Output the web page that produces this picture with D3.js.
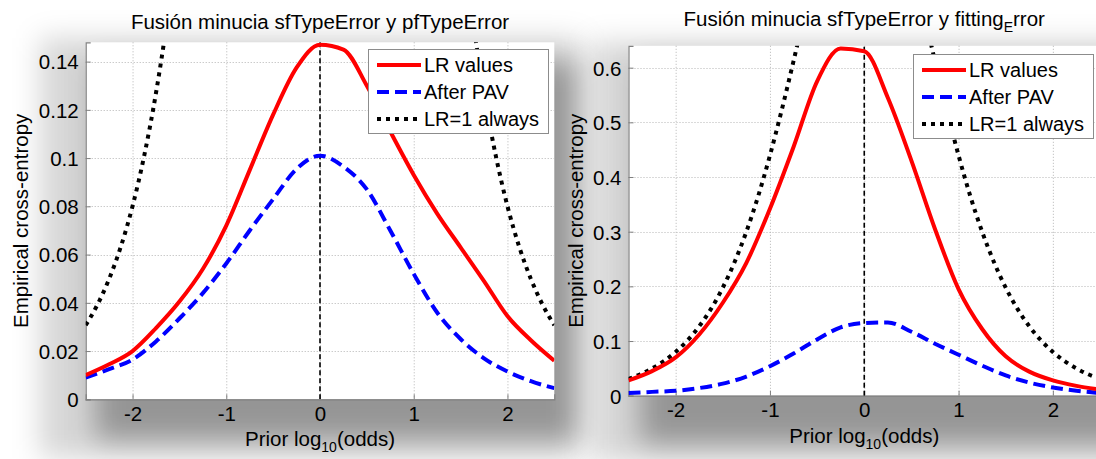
<!DOCTYPE html>
<html>
<head>
<meta charset="utf-8">
<script src="https://cdn.jsdelivr.net/npm/d3@7"></script>
<style>
  html, body { margin: 0; padding: 0; background: #fff; overflow: hidden; }
  svg { display: block; font-family: "Liberation Sans", Arial, sans-serif; }
</style>
</head>
<body>
<svg id="fig" width="1096" height="459"></svg>
<script>
// Prior log10(odds) grid shared by the LR and PAV curves
const priorLogOdds = [-2.5, -2.25, -2, -1.75, -1.5, -1.25, -1, -0.75, -0.5, -0.25, 0,
                      0.25, 0.5, 0.75, 1, 1.25, 1.5, 1.75, 2, 2.25, 2.5];

// Fusion sfTypeError + pfTypeError
const pfLRValues  = [0.0100, 0.0145, 0.0200, 0.0295, 0.0405, 0.0540, 0.0720, 0.0950, 0.1180, 0.1375, 0.1470,
                     0.1450, 0.1300, 0.1110, 0.0930, 0.0770, 0.0630, 0.0490, 0.0345, 0.0245, 0.0160];
const pfAfterPAV  = [0.0090, 0.0125, 0.0165, 0.0240, 0.0335, 0.0440, 0.0563, 0.0700, 0.0830, 0.0955, 0.1010,
                     0.0965, 0.0870, 0.0700, 0.0520, 0.0360, 0.0250, 0.0170, 0.0115, 0.0075, 0.0046];

// Fusion sfTypeError + fitting_Error
const fitLRValues = [0.0280, 0.0450, 0.0700, 0.1120, 0.1700, 0.2430, 0.3420, 0.4550, 0.5750, 0.6350, 0.6300,
                     0.5450, 0.4300, 0.3050, 0.1950, 0.1220, 0.0720, 0.0440, 0.0280, 0.0180, 0.0110];
const fitAfterPAV = [0.0050, 0.0070, 0.0090, 0.0140, 0.0220, 0.0350, 0.0540, 0.0770, 0.1030, 0.1250, 0.1330,
                     0.1340, 0.1170, 0.0950, 0.0750, 0.0550, 0.0370, 0.0240, 0.0150, 0.0090, 0.0050];

// Reference curve for a system that always outputs LR = 1
const neutralLogOdds = [-2.5, -2.375, -2.25, -2.125, -2, -1.875, -1.75, -1.625, -1.5, -1.375, -1.25, -1.125,
                        -1, -0.875, -0.75, -0.625, -0.5, -0.25, 0, 0.25, 0.5, 0.625, 0.75, 0.875, 1,
                        1.125, 1.25, 1.375, 1.5, 1.625, 1.75, 1.875, 2, 2.125, 2.25, 2.375, 2.5];
const neutralECE = [0.0307, 0.0392, 0.0499, 0.0633, 0.0801, 0.1011, 0.1270, 0.1588, 0.1977, 0.2445, 0.3000, 0.3649,
                    0.4395, 0.5226, 0.6120, 0.7049, 0.7954, 0.9427, 1.0000, 0.9427, 0.7954, 0.7049, 0.6120, 0.5226, 0.4395,
                    0.3649, 0.3000, 0.2445, 0.1977, 0.1588, 0.1270, 0.1011, 0.0801, 0.0633, 0.0499, 0.0392, 0.0307];

const xTicks = [-2, -1, 0, 1, 2];
const pfYTicks = [0, 0.02, 0.04, 0.06, 0.08, 0.1, 0.12, 0.14];
const fitYTicks = [0, 0.1, 0.2, 0.3, 0.4, 0.5, 0.6];
const legendLabels = ["LR values", "After PAV", "LR=1 always"];

const svg = d3.select("#fig");
const defs = svg.append("defs");

// Soft gray surround of each figure panel
const soft = defs.append("filter").attr("id", "soft")
  .attr("x", "-30%").attr("y", "-30%").attr("width", "160%").attr("height", "160%");
soft.append("feGaussianBlur").attr("stdDeviation", 14);

const backdrops = [
  { x: 40,  y: 38, w: 540, h: 420, o: 0.16 },
  { x: 95,  y: 62, w: 482, h: 378, o: 0.30 },
  { x: 592, y: 42, w: 620, h: 420, o: 0.16 },
  { x: 640, y: 64, w: 560, h: 380, o: 0.30 }
];
svg.append("g").selectAll("rect").data(backdrops).join("rect")
  .attr("x", d => d.x).attr("y", d => d.y).attr("width", d => d.w).attr("height", d => d.h)
  .attr("fill", "#000").attr("fill-opacity", d => d.o).attr("filter", "url(#soft)");

const styles = {
  lr:      { stroke: "#ff0000", dash: null,    width: 4 },
  pav:     { stroke: "#0000ff", dash: "12,6",  width: 4 },
  neutral: { stroke: "#000000", dash: "4,5",   width: 4 }
};

const panels = [
  {
    id: "pf", left: 85.7, right: 554.3, top: 42.3, bottom: 399.3, yMax: 0.148,
    yTicks: pfYTicks, lr: pfLRValues, pav: pfAfterPAV,
    title: [{ t: "Fusión minucia sfTypeError y pfTypeError" }], titleY: 29, xLabelY: 446,
    yLabelX: 28, legend: { x: 368, y: 49, w: 180, h: 84 }
  },
  {
    id: "fit", left: 628.5, right: 1100, top: 45.8, bottom: 395.7, yMax: 0.64,
    yTicks: fitYTicks, lr: fitLRValues, pav: fitAfterPAV,
    title: [{ t: "Fusión minucia sfTypeError y fitting" }, { t: "E", sub: true }, { t: "rror" }], titleY: 26, xLabelY: 443,
    yLabelX: 583, legend: { x: 913, y: 54, w: 180, h: 84 }
  }
];

function drawPanel(p) {
  const x = d3.scaleLinear().domain([-2.5, 2.5]).range([p.left, p.right]);
  const y = d3.scaleLinear().domain([0, p.yMax]).range([p.bottom, p.top]);
  const g = svg.append("g");

  defs.append("clipPath").attr("id", "clip-" + p.id)
    .append("rect").attr("x", p.left).attr("y", p.top)
    .attr("width", p.right - p.left).attr("height", p.bottom - p.top);

  // plot area
  g.append("rect").attr("x", p.left).attr("y", p.top)
    .attr("width", p.right - p.left).attr("height", p.bottom - p.top).attr("fill", "#fff");

  // grid
  const grid = g.append("g").attr("stroke", "#b4b4b4").attr("stroke-width", 1).attr("stroke-dasharray", "1,2");
  grid.selectAll(".gx").data(xTicks).join("line")
    .attr("x1", d => x(d) + 0.5).attr("x2", d => x(d) + 0.5).attr("y1", p.top).attr("y2", p.bottom);
  grid.selectAll(".gy").data(p.yTicks.filter(v => v > 0)).join("line")
    .attr("y1", d => Math.round(y(d)) + 0.5).attr("y2", d => Math.round(y(d)) + 0.5).attr("x1", p.left).attr("x2", p.right);

  // axes
  const xAxis = d3.axisBottom(x).tickValues(xTicks).tickSize(-5).tickPadding(6).tickFormat(d3.format("d"));
  const yAxis = d3.axisLeft(y).tickValues(p.yTicks).tickSize(-5).tickPadding(7).tickFormat(d => d === 0 ? "0" : String(+d.toFixed(2)));
  const gx = g.append("g").attr("transform", `translate(0,${p.bottom})`).call(xAxis);
  const gy = g.append("g").attr("transform", `translate(${p.left},0)`).call(yAxis);
  [gx, gy].forEach(a => {
    a.select(".domain").attr("stroke", "#808080").attr("stroke-width", 1.2);
    a.selectAll(".tick line").attr("stroke", "#808080");
    a.selectAll(".tick text").attr("fill", "#000").attr("font-size", 20.5)
      .attr("font-family", "'Liberation Sans', Arial, sans-serif");
  });
  gx.selectAll(".tick text").attr("y", 6).attr("dy", "0.75em").text(d => d < 0 ? "-" + Math.abs(d) : String(d));
  gy.selectAll(".tick text").attr("dy", "0.36em");

  // curves
  const curves = g.append("g").attr("clip-path", `url(#clip-${p.id})`).attr("fill", "none");
  const smooth = d3.line().x(d => x(d[0])).y(d => y(d[1])).curve(d3.curveMonotoneX);

  curves.append("line").attr("x1", x(0)).attr("x2", x(0)).attr("y1", p.bottom).attr("y2", p.top)
    .attr("stroke", "#000").attr("stroke-width", 1.6).attr("stroke-dasharray", "5,3");

  const series = [
    { key: "neutral", pts: d3.zip(neutralLogOdds, neutralECE) },
    { key: "pav", pts: d3.zip(priorLogOdds, p.pav) },
    { key: "lr", pts: d3.zip(priorLogOdds, p.lr) }
  ];
  series.forEach(s => {
    const st = styles[s.key];
    curves.append("path").attr("d", smooth(s.pts))
      .attr("stroke", st.stroke).attr("stroke-width", st.width)
      .attr("stroke-dasharray", st.dash).attr("stroke-linejoin", "round");
  });

  // title
  const title = svg.append("text").attr("x", x(0)).attr("y", p.titleY)
    .attr("text-anchor", "middle").attr("font-size", 20.5).attr("fill", "#000");
  p.title.forEach((part, i) => {
    const ts = title.append("tspan").text(part.t);
    if (part.sub) ts.attr("font-size", 14).attr("dy", 6);
    else if (i > 0 && p.title[i - 1].sub) ts.attr("dy", -6);
  });

  // axis labels
  const xl = svg.append("text").attr("x", x(0)).attr("y", p.xLabelY)
    .attr("text-anchor", "middle").attr("font-size", 20.5).attr("fill", "#000");
  xl.append("tspan").text("Prior log");
  xl.append("tspan").text("10").attr("font-size", 14).attr("dy", 6);
  xl.append("tspan").text("(odds)").attr("dy", -6);

  svg.append("text").attr("transform", `translate(${p.yLabelX},${(p.top + p.bottom) / 2}) rotate(-90)`)
    .attr("text-anchor", "middle").attr("font-size", 20.5).attr("fill", "#000")
    .text("Empirical cross-entropy");

  // legend
  const L = p.legend;
  const lg = svg.append("g").attr("transform", `translate(${L.x},${L.y})`);
  lg.append("rect").attr("x", 0.5).attr("y", 0.5).attr("width", L.w).attr("height", L.h)
    .attr("fill", "#fff").attr("stroke", "#8c8c8c").attr("stroke-width", 1);
  ["lr", "pav", "neutral"].forEach((k, i) => {
    const st = styles[k];
    const cy = 16 + i * 27;
    lg.append("line").attr("x1", 9).attr("x2", 53).attr("y1", cy).attr("y2", cy)
      .attr("stroke", st.stroke).attr("stroke-width", st.width).attr("stroke-dasharray", st.dash);
    lg.append("text").attr("x", 56).attr("y", cy).attr("dy", "0.36em")
      .attr("font-size", 20).attr("fill", "#000").text(legendLabels[i]);
  });
}

panels.forEach(drawPanel);
</script>
</body>
</html>
